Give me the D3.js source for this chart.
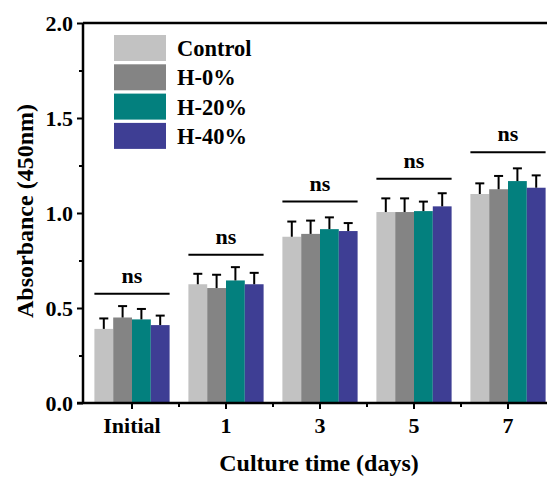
<!DOCTYPE html>
<html><head><meta charset="utf-8">
<script src="https://cdn.jsdelivr.net/npm/d3@7"></script>
<style>
html,body{margin:0;padding:0;background:#fff;}
svg{display:block;}
text{font-family:"Liberation Serif","Times New Roman",serif;font-weight:bold;fill:#000;}
</style></head>
<body>
<svg id="chart" width="547" height="477"></svg>
<script>
const categories = ["Initial", "1", "3", "5", "7"];
const seriesNames = ["Control", "H-0%", "H-20%", "H-40%"];
const seriesColors = ["#c2c2c2", "#848484", "#03807e", "#3e3e94"];
const controlVals = [0.39, 0.625, 0.875, 1.005, 1.10];
const h0Vals      = [0.45, 0.605, 0.89, 1.005, 1.125];
const h20Vals     = [0.44, 0.645, 0.915, 1.01, 1.168];
const h40Vals     = [0.41, 0.625, 0.905, 1.035, 1.133];
const controlErr = [0.055, 0.055, 0.08, 0.072, 0.056];
const h0Err      = [0.06, 0.07, 0.07, 0.072, 0.07];
const h20Err     = [0.055, 0.07, 0.062, 0.05, 0.067];
const h40Err     = [0.05, 0.06, 0.042, 0.069, 0.065];
const nsLevels = [0.575, 0.78, 1.06, 1.18, 1.32];
const nsLabels = ["ns", "ns", "ns", "ns", "ns"];
const yTicks = [0.0, 0.5, 1.0, 1.5, 2.0];
const yMinorTicks = [0.25, 0.75, 1.25, 1.75];
const xTitle = "Culture time (days)";
const yTitle = "Absorbance (450nm)";

const values = [controlVals, h0Vals, h20Vals, h40Vals];
const errs = [controlErr, h0Err, h20Err, h40Err];

const svg = d3.select("#chart");
const x0 = d3.scaleBand().domain(categories).range([85, 555]).paddingInner(0.2).paddingOuter(0.1);
const x1 = d3.scaleBand().domain(seriesNames).range([0, x0.bandwidth()]);
const y = d3.scaleLinear().domain([0, 2]).range([403, 23]);
const axisX = 83;

// bars
const data = [];
categories.forEach((c, i) => seriesNames.forEach((s, j) => data.push({c, s, j, v: values[j][i], e: errs[j][i]})));

const g = svg.append("g");
g.selectAll("rect.bar").data(data).enter().append("rect")
  .attr("class", "bar")
  .attr("x", d => x0(d.c) + x1(d.s))
  .attr("width", x1.bandwidth())
  .attr("y", d => y(d.v))
  .attr("height", d => y(0) - y(d.v))
  .attr("fill", d => seriesColors[d.j]);

// error bars
const eg = g.selectAll("g.err").data(data).enter().append("g").attr("class", "err");
eg.append("line")
  .attr("x1", d => x0(d.c) + x1(d.s) + x1.bandwidth() / 2)
  .attr("x2", d => x0(d.c) + x1(d.s) + x1.bandwidth() / 2)
  .attr("y1", d => y(d.v))
  .attr("y2", d => y(d.v + d.e))
  .attr("stroke", "#000").attr("stroke-width", 2);
eg.append("line")
  .attr("x1", d => x0(d.c) + x1(d.s) + x1.bandwidth() / 2 - 4.5)
  .attr("x2", d => x0(d.c) + x1(d.s) + x1.bandwidth() / 2 + 4.5)
  .attr("y1", d => y(d.v + d.e))
  .attr("y2", d => y(d.v + d.e))
  .attr("stroke", "#000").attr("stroke-width", 2);

// ns brackets
categories.forEach((c, i) => {
  svg.append("line")
    .attr("x1", x0(c)).attr("x2", x0(c) + x0.bandwidth())
    .attr("y1", y(nsLevels[i])).attr("y2", y(nsLevels[i]))
    .attr("stroke", "#000").attr("stroke-width", 2);
  svg.append("text")
    .attr("x", x0(c) + x0.bandwidth() / 2)
    .attr("y", y(nsLevels[i]) - 11)
    .attr("text-anchor", "middle")
    .attr("font-size", 22)
    .text(nsLabels[i]);
});

// top border
svg.append("line").attr("x1", axisX).attr("x2", 547).attr("y1", y(2)).attr("y2", y(2))
  .attr("stroke", "#000").attr("stroke-width", 2.5);

// y axis
const yAxis = svg.append("g").attr("transform", `translate(${axisX},0)`)
  .call(d3.axisLeft(y).tickValues(yTicks).tickFormat(d3.format(".1f")).tickSize(6).tickPadding(4));
yAxis.select(".domain").attr("stroke-width", 2.5).attr("d", `M0,${y(0)}V${y(2)}`);
yAxis.selectAll(".tick line").attr("stroke-width", 2);
yAxis.selectAll(".tick text").attr("font-size", 22).attr("font-family", "Liberation Serif, serif").attr("font-weight", "bold");
svg.append("g").attr("transform", `translate(${axisX},0)`)
  .call(d3.axisLeft(y).tickValues(yMinorTicks).tickSize(4).tickFormat(""))
  .call(a => a.select(".domain").remove())
  .selectAll(".tick line").attr("stroke-width", 2);

// x axis
const xAxis = svg.append("g").attr("transform", `translate(0,${y(0)})`)
  .call(d3.axisBottom(x0).tickSize(6).tickPadding(8).tickSizeOuter(0));
xAxis.select(".domain").attr("stroke-width", 2.5).attr("d", `M${axisX - 6},0H547`);
xAxis.selectAll(".tick line").attr("stroke-width", 2);
xAxis.selectAll(".tick text").attr("font-size", 22).attr("font-family", "Liberation Serif, serif").attr("font-weight", "bold");
// minor x ticks at band boundaries
const bounds = categories.slice(1).map(c => x0(c) - x0.step() * x0.paddingInner() / 2);
svg.selectAll("line.xminor").data(bounds).enter().append("line")
  .attr("x1", d => d).attr("x2", d => d)
  .attr("y1", y(0)).attr("y2", y(0) + 4)
  .attr("stroke", "#000").attr("stroke-width", 2);

// axis titles
svg.append("text").attr("x", 319).attr("y", 471).attr("text-anchor", "middle")
  .attr("font-size", 24).text(xTitle);
svg.append("text").attr("transform", "translate(33,211) rotate(-90)").attr("text-anchor", "middle")
  .attr("font-size", 24).text(yTitle);

// legend
const lg = svg.append("g");
seriesNames.forEach((s, j) => {
  const ly = 35 + j * 29.3;
  lg.append("rect").attr("x", 114).attr("y", ly).attr("width", 52).attr("height", 26).attr("fill", seriesColors[j]);
  lg.append("text").attr("x", 177).attr("y", ly + 21).attr("font-size", 22.5).text(s);
});
</script>
</body></html>
